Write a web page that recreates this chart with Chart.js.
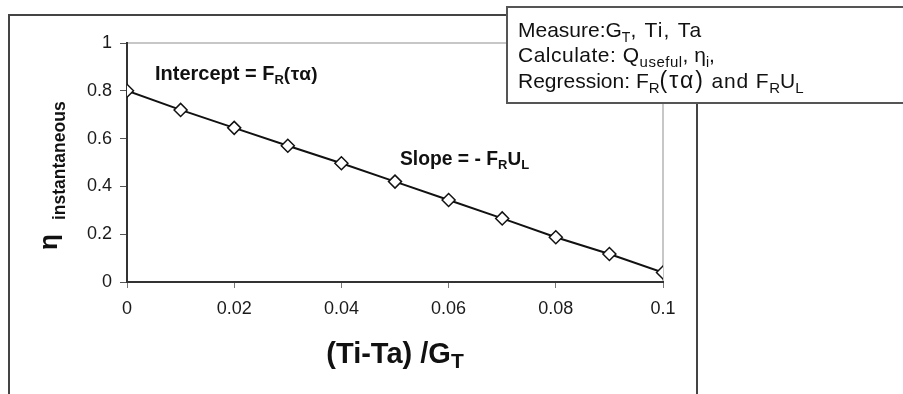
<!DOCTYPE html>
<html>
<head>
<meta charset="utf-8">
<script src="https://cdn.jsdelivr.net/npm/chart.js@4"></script>
<style>
html,body{margin:0;padding:0;background:#fff;}
#c{display:block;}
</style>
</head>
<body>
<canvas id="c" width="903" height="394"></canvas>
<script>
// ---- data ----
const xValues = [0, 0.01, 0.02, 0.03, 0.04, 0.05, 0.06, 0.07, 0.08, 0.09, 0.1];
const etaValues = [0.80, 0.72, 0.645, 0.57, 0.497, 0.42, 0.343, 0.266, 0.187, 0.117, 0.04];
const xTickLabels = ['0', '0.02', '0.04', '0.06', '0.08', '0.1'];
const yTickLabels = ['0', '0.2', '0.4', '0.6', '0.8', '1'];

const FAM = '"Liberation Sans", Arial, sans-serif';

// segments: {t, size, sub(drop px), ls(letter spacing px)}
function drawRich(ctx, x, y, segs, bold) {
  const w = bold ? 'bold ' : '';
  let cx = x;
  for (const s of segs) {
    ctx.font = w + s.size + 'px ' + FAM;
    ctx.letterSpacing = (s.ls || 0) + 'px';
    ctx.fillText(s.t, cx, y + (s.sub || 0));
    cx += ctx.measureText(s.t).width;
  }
  ctx.letterSpacing = '0px';
  return cx - x;
}

const decor = {
  id: 'decor',
  beforeDraw(chart) {
    const ctx = chart.ctx;
    const a = chart.chartArea;
    ctx.save();
    ctx.strokeStyle = '#444';
    ctx.lineWidth = 2;
    ctx.beginPath();
    ctx.moveTo(9, 400); ctx.lineTo(9, 15); ctx.lineTo(697, 15); ctx.lineTo(697, 400);
    ctx.stroke();
    ctx.strokeStyle = '#b5b5b5';
    ctx.lineWidth = 1.5;
    ctx.beginPath();
    ctx.moveTo(a.left, a.top); ctx.lineTo(a.right, a.top); ctx.lineTo(a.right, a.bottom);
    ctx.stroke();
    ctx.restore();
  },
  afterDraw(chart) {
    const ctx = chart.ctx;
    const a = chart.chartArea;
    ctx.save();
    ctx.fillStyle = '#111';
    ctx.textBaseline = 'alphabetic';
    ctx.textAlign = 'left';

    // x axis title
    ctx.font = 'bold 29px ' + FAM;
    const wMain = ctx.measureText('(Ti-Ta) /G').width;
    ctx.font = 'bold 21px ' + FAM;
    const wSub = ctx.measureText('T').width;
    const cx = (a.left + a.right) / 2;
    drawRich(ctx, cx - (wMain + wSub) / 2, 363,
      [{t: '(Ti-Ta) /G', size: 29}, {t: 'T', size: 21, sub: 5}], true);

    // y axis title (rotated)
    ctx.save();
    ctx.translate(57, 250);
    ctx.rotate(-Math.PI / 2);
    ctx.font = 'bold 26px ' + FAM;
    ctx.fillText('η', 0, 0);
    ctx.font = 'bold 17.5px ' + FAM;
    ctx.fillText('instantaneous', 30, 8);
    ctx.restore();

    // annotations
    drawRich(ctx, 155, 80,
      [{t: 'Intercept = F', size: 20}, {t: 'R', size: 13, sub: 4}, {t: '(τα)', size: 19, ls: 0.5}], true);
    drawRich(ctx, 400, 165,
      [{t: 'Slope = - F', size: 19.3}, {t: 'R', size: 13, sub: 4}, {t: 'U', size: 19}, {t: 'L', size: 13, sub: 4}], true);

    // info box
    ctx.fillStyle = '#fff';
    ctx.fillRect(507, 7, 420, 96);
    ctx.strokeStyle = '#555';
    ctx.lineWidth = 2;
    ctx.strokeRect(507, 7, 420, 96);
    ctx.fillStyle = '#111';
    drawRich(ctx, 518, 37,
      [{t: 'Measure:G', size: 21}, {t: 'T', size: 14, sub: 5}, {t: ', Ti, Ta', size: 21, ls: 1.2}], false);
    drawRich(ctx, 518, 62,
      [{t: 'Calculate: Q', size: 21, ls: 0.5}, {t: 'useful', size: 15, sub: 5, ls: 0.5},
       {t: ', ', size: 21}, {t: 'η', size: 21}, {t: 'i', size: 14, sub: 5}, {t: ',', size: 21}], false);
    drawRich(ctx, 518, 88,
      [{t: 'Regression: F', size: 21}, {t: 'R', size: 15, sub: 5}, {t: '(τα)', size: 23, ls: 2},
       {t: ' and F', size: 21, ls: 0.8}, {t: 'R', size: 15, sub: 5}, {t: 'U', size: 21}, {t: 'L', size: 15, sub: 5}], false);
    ctx.restore();
  }
};

const points = xValues.map((x, i) => ({x: x, y: etaValues[i]}));

new Chart(document.getElementById('c'), {
  type: 'scatter',
  data: {
    datasets: [{
      data: points,
      showLine: true,
      borderColor: '#111',
      borderWidth: 2,
      pointStyle: 'rectRot',
      pointRadius: 6.5,
      pointBorderWidth: 1.5,
      pointBackgroundColor: '#fff',
      pointBorderColor: '#111'
    }]
  },
  options: {
    responsive: false,
    animation: false,
    layout: {padding: {left: 87, right: 240, top: 43, bottom: 72}},
    plugins: {legend: {display: false}, tooltip: {enabled: false}},
    scales: {
      x: {
        type: 'linear', min: 0, max: 0.1,
        ticks: {stepSize: 0.02, color: '#1a1a1a', font: {family: FAM, size: 18}, padding: 10,
          maxRotation: 0, autoSkip: false,
          callback: (v, i) => xTickLabels[i]},
        grid: {display: true, drawOnChartArea: false, drawTicks: true, tickLength: 6, color: '#777'},
        border: {display: true, color: '#333', width: 2},
        afterFit: s => { s.height = 40; }
      },
      y: {
        min: 0, max: 1,
        ticks: {stepSize: 0.2, color: '#1a1a1a', font: {family: FAM, size: 18}, padding: 8,
          callback: (v, i) => yTickLabels[i]},
        grid: {display: true, drawOnChartArea: false, drawTicks: true, tickLength: 7, color: '#555'},
        border: {display: true, color: '#333', width: 2},
        afterFit: s => { s.width = 40; }
      }
    }
  },
  plugins: [decor]
});
</script>
</body>
</html>
